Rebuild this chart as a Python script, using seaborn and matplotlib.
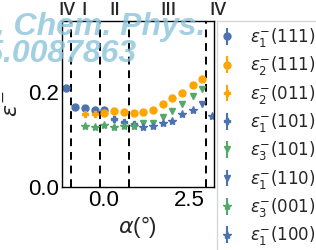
import matplotlib
matplotlib.use("Agg")
import matplotlib.pyplot as plt
import seaborn as sns

# ----- dados -----
X1_111 = [-1.09, -0.81, -0.54, -0.25, 0.03]
Y1_111 = [0.208, 0.169, 0.167, 0.162, 0.162]

X2_111 = [0.03, 0.32, 0.60, 0.89, 1.16, 1.45, 1.73, 2.00, 2.29, 2.58, 2.85]
Y2_111 = [0.157, 0.160, 0.159, 0.156, 0.158, 0.162, 0.174, 0.187, 0.199, 0.215, 0.228]

X2_011 = [-0.54, -0.25]
Y2_011 = [0.153, 0.153]

X1_101 = [0.32, 0.60, 0.89]
Y1_101 = [0.143, 0.137, 0.132]

X3_101 = [1.16, 1.45, 1.73, 2.00, 2.29, 2.58, 2.85]
Y3_101 = [0.135, 0.135, 0.147, 0.160, 0.174, 0.191, 0.206]

X1_110 = [2.85]
Y1_110 = [0.174]

X3_001 = [-0.54, -0.25, 0.03, 0.32, 0.60, 0.89]
Y3_001 = [0.128, 0.126, 0.131, 0.126, 0.128, 0.128]

X1_100 = [1.16, 1.45, 1.73, 2.00, 2.29, 2.58, 3.14]
Y1_100 = [0.126, 0.128, 0.135, 0.140, 0.153, 0.162, 0.149]

ERRO = 0.004  # barra de erro (pequena)

# limites das regioes e rotulos
LINHAS = [-0.95, -0.09, 0.75, 2.96]
ROTULOS = ["iv", "i", "ii", "iii", "iv"]
POS_ROTULOS = [-1.06, -0.55, 0.32, 1.87, 3.32]

AZUL = "#4C72B0"
LARANJA = "#FFA500"
VERDE = "#55A868"

SERIES = [
    (X1_111, Y1_111, AZUL, "o", r"$\epsilon_1^{-}(111)$"),
    (X2_111, Y2_111, LARANJA, "o", r"$\epsilon_2^{-}(111)$"),
    (X2_011, Y2_011, LARANJA, "P", r"$\epsilon_2^{-}(011)$"),
    (X1_101, Y1_101, AZUL, "P", r"$\epsilon_1^{-}(101)$"),
    (X3_101, Y3_101, VERDE, "v", r"$\epsilon_3^{-}(101)$"),
    (X1_110, Y1_110, AZUL, "v", r"$\epsilon_1^{-}(110)$"),
    (X3_001, Y3_001, VERDE, "*", r"$\epsilon_3^{-}(001)$"),
    (X1_100, Y1_100, AZUL, "*", r"$\epsilon_1^{-}(100)$"),
]

sns.set_theme(style="white")
plt.rcParams["font.family"] = ["Liberation Sans", "DejaVu Sans"]
plt.rcParams["mathtext.fontset"] = "dejavusans"

fig = plt.figure(figsize=(3.16, 2.5), dpi=100)
ax = fig.add_axes([0.196, 0.252, 0.481, 0.664])

for xs, ys, cor, marc, nome in SERIES:
    ax.errorbar(xs, ys, yerr=[ERRO] * len(xs), fmt=marc, color=cor,
                ms=5 if marc != "*" else 6, elinewidth=1.5, capsize=0,
                label=nome)

for xv in LINHAS:
    ax.axvline(xv, color="black", ls=(0, (4, 3)), lw=1.4)

for txt, xp in zip(ROTULOS, POS_ROTULOS):
    ax.text(xp, 1.005, txt, transform=ax.get_xaxis_transform(), ha="center",
            va="bottom", fontsize=17, clip_on=False)

ax.set_xlim(-1.2, 3.2)
ax.set_ylim(0, 0.35)
ax.set_xticks([0, 2.5])
ax.set_xticklabels(["0.0", "2.5"])
ax.set_yticks([0, 0.2])
ax.set_yticklabels(["0.0", "0.2"])
ax.tick_params(labelsize=16, direction="in", length=3, width=0.8,
               colors="black", pad=2)
for sp in ax.spines.values():
    sp.set_color("black")
    sp.set_linewidth(1.0)

ax.set_xlabel(r"$\alpha$(°)", fontsize=16, labelpad=2)
ax.set_ylabel(r"$\epsilon^{-}$", fontsize=16, labelpad=4)

ax.legend(loc="upper left", bbox_to_anchor=(1.02, 1.0), borderaxespad=0,
          fontsize=12, handlelength=0.6, handletextpad=1.1, borderpad=0.3,
          labelspacing=0.32, frameon=True, fancybox=False, edgecolor="#cccccc")

# marca d'agua
fig.text(205 / 316, 1 - 35 / 250, "J. Chem. Phys.", ha="right",
         va="baseline", fontsize=23, fontweight="bold", style="italic",
         color="#8cc3dc", alpha=0.8, zorder=10)
fig.text(137 / 316, 1 - 62 / 250, "10.1063/5.0087863", ha="right",
         va="baseline", fontsize=23, fontweight="bold", style="italic",
         color="#8cc3dc", alpha=0.8, zorder=10)

fig.savefig("out.png", dpi=100)
